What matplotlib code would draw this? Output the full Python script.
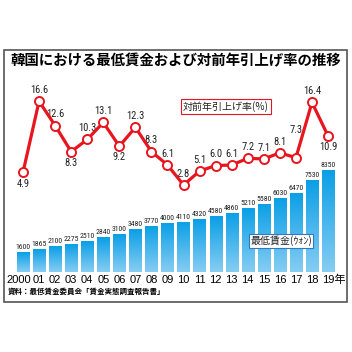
import numpy as np
import matplotlib.pyplot as plt
import matplotlib.transforms as mtransforms
from matplotlib.patches import Rectangle
from matplotlib.colors import LinearSegmentedColormap
from matplotlib.textpath import TextPath
from matplotlib.font_manager import FontProperties, findfont

plt.rcParams['font.family'] = ['Noto Sans CJK JP', 'DejaVu Sans']

# data
years = ['2000', '01', '02', '03', '04', '05', '06', '07', '08', '09',
         '10', '11', '12', '13', '14', '15', '16', '17', '18', '19年']
wage = [1600, 1865, 2100, 2275, 2510, 2840, 3100, 3480, 3770, 4000,
        4110, 4320, 4580, 4860, 5210, 5580, 6030, 6470, 7530, 8350]
rate = [4.9, 16.6, 12.6, 8.3, 10.3, 13.1, 9.2, 12.3, 8.3, 6.1,
        2.8, 5.1, 6.0, 6.1, 7.2, 7.1, 8.1, 7.3, 16.4, 10.9]
# label placement for rate values: 1 above, -1 below
rate_pos = [-1, 1, 1, -1, 1, 1, -1, 1, 1, 1,
            1, 1, 1, 1, 1, 1, 1, 1, 1, -1]

# pick the narrowest font that is installed
narrow = 'Liberation Sans'
for name in ['Liberation Sans Narrow', 'Roboto Condensed', 'DejaVu Sans Condensed']:
    try:
        findfont(FontProperties(family=name), fallback_to_default=False)
        narrow = name
        break
    except ValueError:
        pass
w10 = TextPath((0, 0), '8888', prop=FontProperties(family=narrow, size=10)).get_extents().width
bar_fs = min(6.8, 10 * 14.5 / (w10 * 100 / 72))
w10 = TextPath((0, 0), '16.6', prop=FontProperties(family=narrow, size=10)).get_extents().width
line_fs = min(7.6, 10 * 17.5 / (w10 * 100 / 72))

red = '#e8151f'
fig = plt.figure(figsize=(3.52, 3.52), dpi=100)
fig.patch.set_facecolor('white')

# frame
fig.patches.append(Rectangle((4/352, 1 - 302/352), 343/352, 252/352,
                             transform=fig.transFigure, fill=False,
                             edgecolor='#555555', linewidth=1.2))

fig.text(176/352, 1 - 61/352, '韓国における最低賃金および対前年引上げ率の推移',
         ha='center', va='center', fontsize=10.4, fontweight='bold')

ax = fig.add_axes([10/352, 1 - 272/352, 332/352, 177/352])
x = np.arange(len(years))
bars = ax.bar(x, wage, width=0.76, color='#3aaeea', zorder=1)

cmap = LinearSegmentedColormap.from_list('b', ['#86cdf2', '#0a9fe6'])
grad = np.linspace(0, 1, 100).reshape(-1, 1)
for b in bars:
    x0, y0 = b.get_x(), b.get_y()
    im = ax.imshow(grad, cmap=cmap, origin='lower', aspect='auto',
                   extent=[x0, x0 + b.get_width(), y0, y0 + b.get_height()],
                   zorder=2)
    im.set_clip_path(b)

ax.set_xlim(-0.81, 19.87)
ax.set_ylim(0, 14490)

for xi, w in zip(x, wage):
    ax.annotate(str(w), (xi, w), xytext=(0, 1.5), textcoords='offset points',
                ha='center', va='bottom', fontsize=bar_fs, family=narrow,
                color='#222222')

ax.set_xticks(x)
ax.set_xticklabels(years, fontsize=8.0,
                   family=['Liberation Sans', 'Noto Sans CJK JP'])
ax.tick_params(axis='x', length=0, pad=2)
tl = ax.get_xticklabels()
tl[0].set_transform(tl[0].get_transform()
                    + mtransforms.ScaledTranslation(-3/72, 0, fig.dpi_scale_trans))
tl[-1].set_transform(tl[-1].get_transform()
                     + mtransforms.ScaledTranslation(4/72, 0, fig.dpi_scale_trans))
ax.set_yticks([])
for s in ax.spines.values():
    s.set_visible(False)
ax.patch.set_alpha(0)

ax.text(16.07, 2540, '最低賃金(ｳｫﾝ)', ha='center', va='center', fontsize=7.2,
        color='#222222', zorder=5,
        bbox=dict(boxstyle='square,pad=0.15', fc='white', ec='#2f78c4', lw=0.8))

ax2 = ax.twinx()
ax2.set_ylim(-11.53, 17.63)
ax2.plot(x, rate, color=red, lw=2.3, marker='o', ms=6.5, mfc='white',
         mec=red, mew=1.4, zorder=4)
for xi, r, p in zip(x, rate, rate_pos):
    extra = 12 if r == 7.3 else 0
    ax2.annotate(f'{r:.1f}', (xi, r), xytext=(0, p * 4.5 + extra),
                 textcoords='offset points', ha='center',
                 va='bottom' if p > 0 else 'top', fontsize=line_fs,
                 family=narrow, color='#222222')
ax2.text(12.65, 15.8, '対前年引上げ率(%)', ha='center', va='center', fontsize=7.2,
         color='#222222',
         bbox=dict(boxstyle='square,pad=0.2', fc='white', ec=red, lw=0.8))
ax2.set_yticks([])
for s in ax2.spines.values():
    s.set_visible(False)

fig.text(8/352, 1 - 291/352, '資料：最低賃金委員会「賃金実態調査報告書」',
         ha='left', va='center', fontsize=5.4, fontweight='bold')

fig.savefig('out.png', dpi=100)
